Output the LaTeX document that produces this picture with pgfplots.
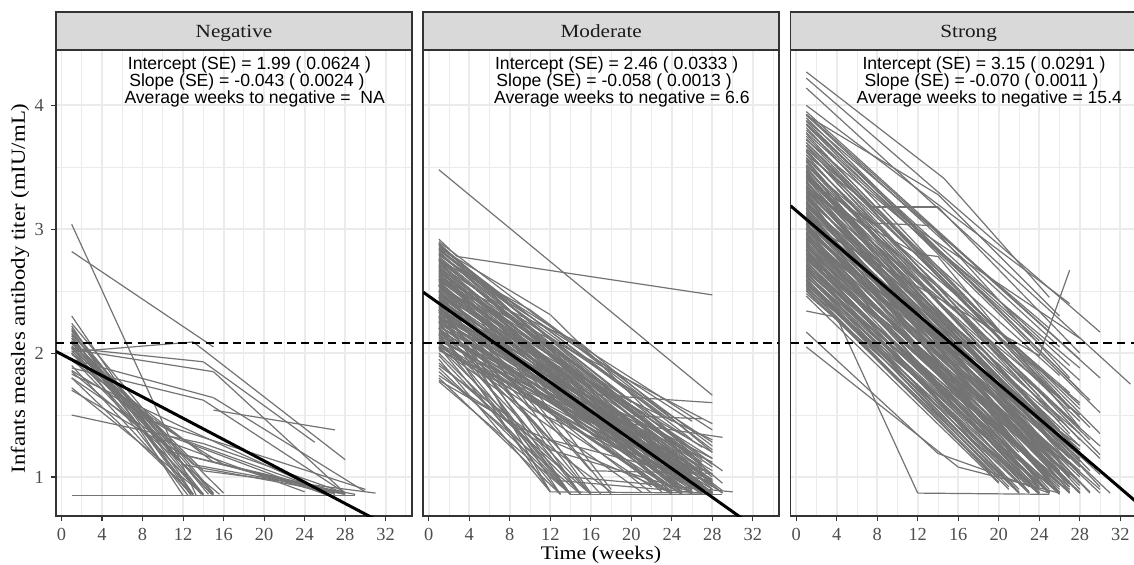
\documentclass[border=0pt]{standalone}
\usepackage{fontspec}
\setmainfont{Liberation Serif}
\newfontfamily\annfont{Liberation Sans}
\newfontfamily\titlefont{Liberation Serif}[FakeStretch=1.14]
\usepackage{pgfplots}
\usepackage{pgfplotstable}
\pgfplotsset{compat=1.18}

\definecolor{spagc}{RGB}{115,115,115}
\definecolor{gridc}{RGB}{235,235,235}
\definecolor{framec}{RGB}{51,51,51}
\definecolor{stripc}{RGB}{217,217,217}
\definecolor{tickc}{RGB}{77,77,77}

% each row is one segment of one infant's trajectory: (x1,y1) -> (x2,y2)
\pgfplotstableread{
x1 y1 x2 y2
1 3.04 13.3 0.85
1 2.82 15 2.05
1 2.30 13 0.86
1 2.24 15 0.87
1 2.22 12 0.85
1 2.20 14 0.86
1 2.19 14.5 0.86
1 2.18 13 0.85
1 2.16 15 0.86
1 2.14 12.8 0.85
1 2.12 14 0.85
1 2.10 13 0.86
1 2.08 16 0.87
1 2.06 14.8 0.86
1 2.05 12.5 0.85
1 2.02 15 0.85
1 2.00 13.8 0.86
1 1.96 14 0.86
1 1.90 12.8 0.86
1 1.85 15.6 0.86
1 1.80 13 0.86
1 1.72 14 0.86
1 2.01 13 2.09
13 2.09 28 1.14
1 2.04 14 1.93
14 1.93 25 1.28
1 2.03 15 1.85
15 1.85 28 0.87
15 1.54 27 1.38
1 1.95 15 1.64
15 1.64 30 0.88
1 1.88 14 1.62
14 1.62 28 0.87
1 1.50 14 1.27
14 1.27 28 0.87
1 0.85 29 0.85
1 2.15 10 1.35
10 1.35 26 0.86
1 2.12 12 1.10
12 1.10 28 0.86
1 2.08 11 1.20
11 1.20 27 0.87
1 2.04 13 1.10
13 1.10 29 0.86
1 1.99 15 1.12
15 1.12 28 0.86
1 1.94 12 1.30
12 1.30 27 0.86
1 1.80 10 1.30
10 1.30 24 0.88
1 1.70 12 1.18
12 1.18 28 0.87
1 2.00 9 1.45
9 1.45 30 0.90
1 2.10 14 1.05
14 1.05 31 0.87
1 1.83 12 1.40
12 1.40 26 0.88
1 1.86 16 1.10
16 1.10 26 0.87
}\negdata

\pgfplotstableread{
x1 y1 x2 y2
1 3.48 28 1.66
1 2.92 2.8 2.78
2.8 2.78 28 2.47
1 2.90 28 1.22
1 2.89 26 0.95
1 2.88 27 1.05
1 2.87 29 0.95
1 2.86 26 1.30
1 2.85 28 0.90
1 2.84 24 1.45
1 2.84 20 1.60
1 2.83 28 1.10
1 2.82 27 0.88
1 2.81 28 1.02
1 2.80 25 1.20
1 2.79 28 1.38
1 2.78 29 0.87
1 2.77 26 1.02
1 2.76 28 0.96
1 2.76 19 1.55
1 2.75 22 1.40
1 2.74 27 1.15
1 2.74 25 0.90
1 2.73 28 0.87
1 2.72 25 0.98
1 2.71 28 1.28
1 2.70 26 0.90
1 2.69 29 1.05
1 2.69 24 0.87
1 2.68 27 0.92
1 2.67 24 1.12
1 2.66 28 1.00
1 2.66 27 1.10
1 2.65 26 1.18
1 2.64 28 0.87
1 2.64 17 1.50
1 2.63 27 1.24
1 2.62 25 0.88
1 2.62 26 0.92
1 2.61 28 1.08
1 2.60 29 0.89
1 2.59 26 1.05
1 2.58 28 1.43
1 2.58 25 0.87
1 2.57 24 0.95
1 2.56 27 0.87
1 2.55 28 1.15
1 2.54 26 0.94
1 2.54 28 0.97
1 2.53 28 0.86
1 2.52 25 1.02
1 2.51 27 1.12
1 2.50 28 0.92
1 2.50 24 0.90
1 2.49 22 1.10
1 2.48 26 0.86
1 2.47 28 1.20
1 2.47 26 1.06
1 2.46 27 0.95
1 2.45 24 0.88
1 2.44 29 0.87
1 2.43 28 1.05
1 2.43 25 0.87
1 2.42 26 1.00
1 2.41 25 0.90
1 2.40 28 0.86
1 2.40 27 0.93
1 2.39 27 1.08
1 2.38 28 0.98
1 2.37 24 1.04
1 2.36 26 0.89
1 2.36 23 0.88
1 2.35 28 1.30
1 2.34 27 0.87
1 2.33 25 0.95
1 2.33 28 1.02
1 2.32 28 0.90
1 2.31 22 0.98
1 2.30 26 1.10
1 2.29 28 0.87
1 2.29 25 0.90
1 2.28 27 1.00
1 2.27 24 0.92
1 2.26 28 1.15
1 2.26 27 0.86
1 2.25 25 0.86
1 2.24 26 0.96
1 2.23 22 0.87
1 2.22 28 0.88
1 2.21 27 1.05
1 2.20 23 0.90
1 2.19 26 0.91
1 2.18 28 0.94
1 2.17 26 0.87
1 2.16 25 1.02
1 2.15 24 0.87
1 2.14 28 1.12
1 2.13 24 0.86
1 2.12 27 0.90
1 2.11 27 0.95
1 2.10 28 0.98
1 2.08 26 0.88
1 2.07 25 0.86
1 2.06 22 0.92
1 2.05 28 0.87
1 2.04 21 0.88
1 2.03 25 0.95
1 2.02 27 1.04
1 2.70 20 1.45
1 2.55 18 1.52
1 2.62 21 1.30
1 2.45 19 1.25
1 2.80 23 1.50
1 2.45 12 0.88
1 2.40 14 0.86
1 2.35 13 0.86
1 2.30 15 0.86
1 2.25 14 0.86
1 2.20 12 0.88
1 2.15 16 0.86
1 2.10 14 0.86
1 2.05 13 0.86
1 2.00 15 0.87
1 1.98 14 0.86
1 1.95 12 0.88
1 1.92 16 0.86
1 1.88 14 0.86
1 1.85 15 0.86
1 1.80 13 0.86
1 1.77 14 0.86
1 2.60 16 0.87
1 2.50 15 0.86
1 2.55 18 0.86
1 2.28 17 0.86
1 2.38 16 0.86
1 1.90 18 0.88
1 2.70 18 0.90
12 0.88 28 0.87
14 0.86 29 0.86
15 0.86 28 0.86
1 2.85 12 2.31
12 2.31 27 1.10
1 2.75 10 2.35
10 2.35 28 1.25
1 2.60 15 2.08
15 2.08 28 1.20
1 2.88 8 2.40
8 2.40 26 1.45
1 2.55 17 1.66
17 1.66 28 1.60
1 2.35 18 1.50
18 1.50 27 1.47
1 2.50 14 1.50
14 1.50 29 1.32
1 2.20 12 1.30
12 1.30 28 0.96
1 2.65 15 1.40
15 1.40 28 0.88
1 2.35 10 1.55
10 1.55 26 0.95
1 2.15 13 0.97
13 0.97 27 0.87
1 2.45 16 1.05
16 1.05 28 1.03
1 2.05 14 1.00
14 1.00 30 0.88
1 1.82 12 1.22
12 1.22 26 0.88
1 1.78 9 1.40
9 1.40 24 0.87
}\moddata

\pgfplotstableread{
x1 y1 x2 y2
1 4.27 14.6 3.41
14.6 3.41 25 2.45
1 4.22 30 2.17
1 4.14 33 1.75
1 4.00 27 2.40
1 3.92 14 3.28
14 3.28 26 2.30
1 3.60 7.5 3.18
7.5 3.18 14 3.18
14 3.18 28 2.00
1 3.40 7.5 3.05
7.5 3.05 13.3 3.03
13.3 3.03 27 1.80
1 3.30 12 2.80
12 2.80 14 2.78
14 2.78 28 1.40
1 3.85 12 3.00
12 3.00 28 2.12
1 3.05 24 1.98
24 1.98 27 2.67
1 2.34 4 2.29
4 2.29 12 0.87
12 0.87 25 0.86
1 2.17 14 1.19
14 1.19 25 0.87
1 2.05 16 1.08
16 1.08 26 0.87
1 3.20 31 0.87
1 2.95 30 0.90
1 3.95 28 1.95
1 3.93 30 1.80
1 3.92 26 2.05
1 3.90 28 1.70
1 3.88 25 2.20
1 3.87 29 1.62
1 3.85 27 1.90
1 3.84 30 1.52
1 3.82 28 1.48
1 3.80 24 2.10
1 3.78 28 1.78
1 3.77 26 1.60
1 3.75 30 1.35
1 3.73 27 1.55
1 3.72 28 1.88
1 3.70 25 1.70
1 3.70 28 1.55
1 3.68 29 1.40
1 3.67 28 1.30
1 3.65 26 1.82
1 3.64 27 1.35
1 3.63 30 1.18
1 3.62 28 1.58
1 3.60 27 1.25
1 3.58 24 1.65
1 3.57 28 1.45
1 3.56 26 1.22
1 3.55 29 1.10
1 3.54 26 1.38
1 3.52 28 1.20
1 3.52 29 1.30
1 3.51 27 1.68
1 3.50 25 1.30
1 3.49 28 1.02
1 3.48 28 1.40
1 3.47 26 1.15
1 3.46 30 0.92
1 3.46 27 1.02
1 3.45 24 1.50
1 3.44 28 0.95
1 3.44 30 1.15
1 3.43 27 1.28
1 3.42 29 1.05
1 3.41 25 1.22
1 3.40 28 1.60
1 3.39 26 0.98
1 3.38 28 1.12
1 3.38 25 0.95
1 3.37 30 1.25
1 3.36 27 0.88
1 3.35 24 1.30
1 3.34 28 1.50
1 3.33 26 1.05
1 3.33 28 1.25
1 3.32 29 0.87
1 3.31 28 1.18
1 3.30 25 1.40
1 3.29 27 1.00
1 3.28 28 0.90
1 3.27 26 1.25
1 3.27 24 0.90
1 3.26 30 1.02
1 3.25 24 1.10
1 3.24 28 1.35
1 3.23 27 0.92
1 3.22 28 1.08
1 3.22 26 0.87
1 3.21 25 0.98
1 3.20 26 1.45
1 3.19 29 0.88
1 3.18 28 1.22
1 3.17 24 0.96
1 3.17 27 1.05
1 3.16 27 1.15
1 3.15 28 0.87
1 3.14 26 1.02
1 3.13 25 1.20
1 3.13 24 0.87
1 3.12 28 1.00
1 3.11 30 0.87
1 3.10 27 1.30
1 3.09 24 1.05
1 3.08 28 0.93
1 3.08 26 0.98
1 3.07 26 0.88
1 3.06 29 1.10
1 3.05 25 0.90
1 3.04 28 1.15
1 3.04 25 0.87
1 3.03 27 0.96
1 3.02 26 1.08
1 3.01 28 0.87
1 3.00 24 0.92
1 3.00 27 1.22
1 3.00 28 1.10
1 2.99 28 1.05
1 2.98 25 0.88
1 2.97 26 1.12
1 2.97 23 0.88
1 2.96 24 0.98
1 2.95 28 0.87
1 2.94 27 1.00
1 2.93 22 1.20
1 2.93 26 0.95
1 2.92 26 0.90
1 2.91 28 1.25
1 2.90 25 1.02
1 2.90 27 0.87
1 2.89 24 0.87
1 2.88 27 0.94
1 2.87 20 1.35
1 2.86 26 1.05
1 2.86 24 0.92
1 2.85 28 0.88
1 2.84 23 0.95
1 2.83 25 1.15
1 2.83 22 0.87
1 2.82 27 0.87
1 2.81 24 1.08
1 2.80 26 0.92
1 2.80 25 1.00
1 2.79 22 1.05
1 2.78 28 0.96
1 2.77 25 0.87
1 2.77 27 0.90
1 2.76 21 1.18
1 2.75 27 1.10
1 2.74 24 0.90
1 2.74 23 0.87
1 2.73 26 0.87
1 2.72 20 1.10
1 2.71 25 0.95
1 2.71 26 0.94
1 2.70 23 0.87
1 2.69 27 0.88
1 2.68 22 0.98
1 2.68 24 0.87
1 2.67 24 1.02
1 2.66 26 0.86
1 2.65 19 1.15
1 2.65 22 0.90
1 2.64 25 0.88
1 2.63 21 0.95
1 2.62 24 0.87
1 2.62 25 0.87
1 2.61 27 0.92
1 2.60 22 0.88
1 2.59 20 1.00
1 2.59 21 0.92
1 2.58 25 0.87
1 2.57 23 0.92
1 2.56 18 1.20
1 2.56 23 0.87
1 2.55 24 0.86
1 2.54 21 0.90
1 2.53 20 0.96
1 2.52 26 0.87
1 2.51 19 1.05
1 2.50 22 0.87
1 2.48 24 0.88
1 2.46 20 0.95
}\strdata

\pgfplotsset{
  facet/.style={
    scale only axis, width=178pt, height=233pt,
    xmin=-0.55, xmax=34.6, ymin=0.685, ymax=4.447,
    xtick={0,4,...,32}, minor xtick={2,6,...,34},
    ytick={1,2,3,4}, minor ytick={1.5,2.5,3.5},
    grid=both,
    major grid style={draw=gridc, line width=0.9pt},
    minor grid style={draw=gridc, line width=0.45pt},
    axis line style={draw=framec, line width=0.75pt},
    tick align=outside, major tick length=2.6pt, minor tick length=0pt,
    tick style={draw=framec, line width=0.6pt},
    tick pos=left,
    tick label style={font=\fontsize{9.2}{10}\selectfont, color=tickc},
    /pgf/number format/assume math mode=true,
    clip mode=individual,
  },
  spag/.style={draw=spagc, line width=0.6pt, mark=none,
    quiver={u=\thisrow{x2}-\thisrow{x1}, v=\thisrow{y2}-\thisrow{y1}}},
  fit/.style={black, line width=1.5pt, mark=none},
  cutoff/.style={black, line width=1pt, mark=none, dash pattern=on 4.2pt off 2.6pt},
}

\newcommand{\annot}{\annfont\fontsize{8.8}{10}\selectfont}
\newcommand{\strip}[2]{%
  \draw[framec, line width=0.75pt, fill=stripc] (#1.north west) rectangle ([yshift=19pt]#1.north east);
  \node[anchor=base, text={rgb,255:red,26;green,26;blue,26}, font=\titlefont\fontsize{9.3}{10}\selectfont]
    at ([yshift=6.4pt]#1.north) {#2};}

\begin{document}
\begin{tikzpicture}

% Negative
\begin{axis}[facet, name=p1, at={(28pt,24pt)}, anchor=south west]
  \addplot[spag] table[x=x1, y=y1] {\negdata};
  \addplot[fit] coordinates {(-0.55,2.014) (34.6,0.502)};
  \addplot[cutoff] coordinates {(-0.55,2.08) (34.6,2.08)};
  \node[anchor=base, font=\annot] at (axis cs:18.55,4.288) {Intercept (SE) = 1.99 ( 0.0624 )};
  \node[anchor=base, font=\annot] at (axis cs:18.30,4.153) {Slope (SE) = -0.043 ( 0.0024 )};
  \node[anchor=base, font=\annot] at (axis cs:19.07,4.019) {Average weeks to negative =\ \ NA};
\end{axis}
\strip{p1}{Negative}

% Moderate
\begin{axis}[facet, name=p2, at={(211.6pt,24pt)}, anchor=south west,
    yticklabels={}, ytick style={draw=none}]
  \addplot[spag] table[x=x1, y=y1] {\moddata};
  \addplot[fit] coordinates {(-0.55,2.492) (34.6,0.453)};
  \addplot[cutoff] coordinates {(-0.55,2.08) (34.6,2.08)};
  \node[anchor=base, font=\annot] at (axis cs:18.55,4.288) {Intercept (SE) = 2.46 ( 0.0333 )};
  \node[anchor=base, font=\annot] at (axis cs:18.30,4.153) {Slope (SE) = -0.058 ( 0.0013 )};
  \node[anchor=base, font=\annot] at (axis cs:19.07,4.019) {Average weeks to negative = 6.6};
\end{axis}
\strip{p2}{Moderate}

% Strong
\begin{axis}[facet, name=p3, at={(395.3pt,24pt)}, anchor=south west,
    yticklabels={}, ytick style={draw=none}]
  \addplot[spag] table[x=x1, y=y1] {\strdata};
  \addplot[fit] coordinates {(-0.55,3.189) (34.6,0.728)};
  \addplot[cutoff] coordinates {(-0.55,2.08) (34.6,2.08)};
  \node[anchor=base, font=\annot] at (axis cs:18.55,4.288) {Intercept (SE) = 3.15 ( 0.0291 )};
  \node[anchor=base, font=\annot] at (axis cs:18.30,4.153) {Slope (SE) = -0.070 ( 0.0011 )};
  \node[anchor=base, font=\annot] at (axis cs:19.07,4.019) {Average weeks to negative = 15.4};
\end{axis}
\strip{p3}{Strong}

\node[anchor=base, font=\titlefont\fontsize{9.6}{11}\selectfont] at (300.5pt,2.4pt) {Time (weeks)};
\node[rotate=90, font=\titlefont\fontsize{10}{12}\selectfont] at (10pt,137.8pt) {Infants measles antibody titer (mIU/mL)};

\pgfresetboundingbox
\path[use as bounding box] (0,0) rectangle (567pt,282pt);
\end{tikzpicture}
\end{document}
